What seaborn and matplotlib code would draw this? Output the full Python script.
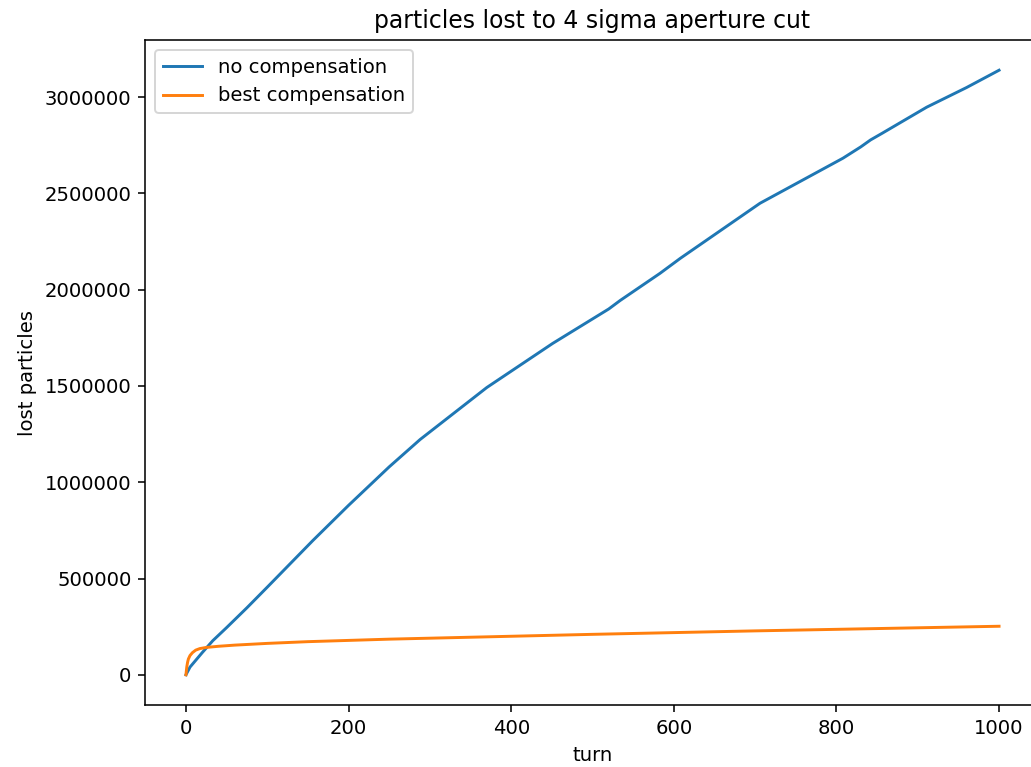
import matplotlib
matplotlib.use("Agg")
import matplotlib.pyplot as plt
import seaborn as sns
import pandas as pd

# data
turn_no_comp = [0, 5, 10, 20, 33, 50, 75, 100, 156, 200, 250, 288, 370, 451, 520,
                534, 583, 608, 706, 808, 830, 842, 856, 911, 960, 1000]
lost_no_comp = [0, 40000, 65000, 115000, 177000, 245000, 348000, 455000, 697000,
                880000, 1080000, 1222000, 1492000, 1721000, 1900000, 1944000,
                2085000, 2163000, 2449000, 2683000, 2742000, 2778000, 2812000,
                2948000, 3050000, 3140000]

turn_best = [0, 1, 2, 3, 5, 8, 12, 17, 25, 40, 60, 100, 150, 250, 400, 500, 700, 850, 1000]
lost_best = [0, 40000, 65000, 82000, 100000, 115000, 128000, 136000, 142000, 148000,
             154000, 163000, 172000, 185000, 200000, 210000, 228000, 240000, 252000]

series_names = ["no compensation", "best compensation"]
line_colors = ["#1f77b4", "#ff7f0e"]

df = pd.concat([
    pd.DataFrame({"turn": turn_no_comp, "lost": lost_no_comp, "series": series_names[0]}),
    pd.DataFrame({"turn": turn_best, "lost": lost_best, "series": series_names[1]}),
], ignore_index=True)

DPI = 141
fig = plt.figure(figsize=(1031 / DPI, 767 / DPI), dpi=DPI)
ax = fig.add_axes([145.3 / 1031, 62 / 767, (1039.7 - 145.3) / 1031, 665 / 767])

sns.lineplot(data=df, x="turn", y="lost", hue="series", hue_order=series_names,
             palette=line_colors, ax=ax, linewidth=1.5, sort=False, estimator=None)

ax.ticklabel_format(axis="y", style="plain", useOffset=False)
ax.set_title("particles lost to 4 sigma aperture cut")
ax.set_xlabel("turn")
ax.set_ylabel("lost particles")
ax.set_xticks([0, 200, 400, 600, 800, 1000])
ax.set_yticks([0, 500000, 1000000, 1500000, 2000000, 2500000, 3000000])
ax.legend(loc="upper left", title=None)

fig.savefig("out.png", dpi=DPI)
